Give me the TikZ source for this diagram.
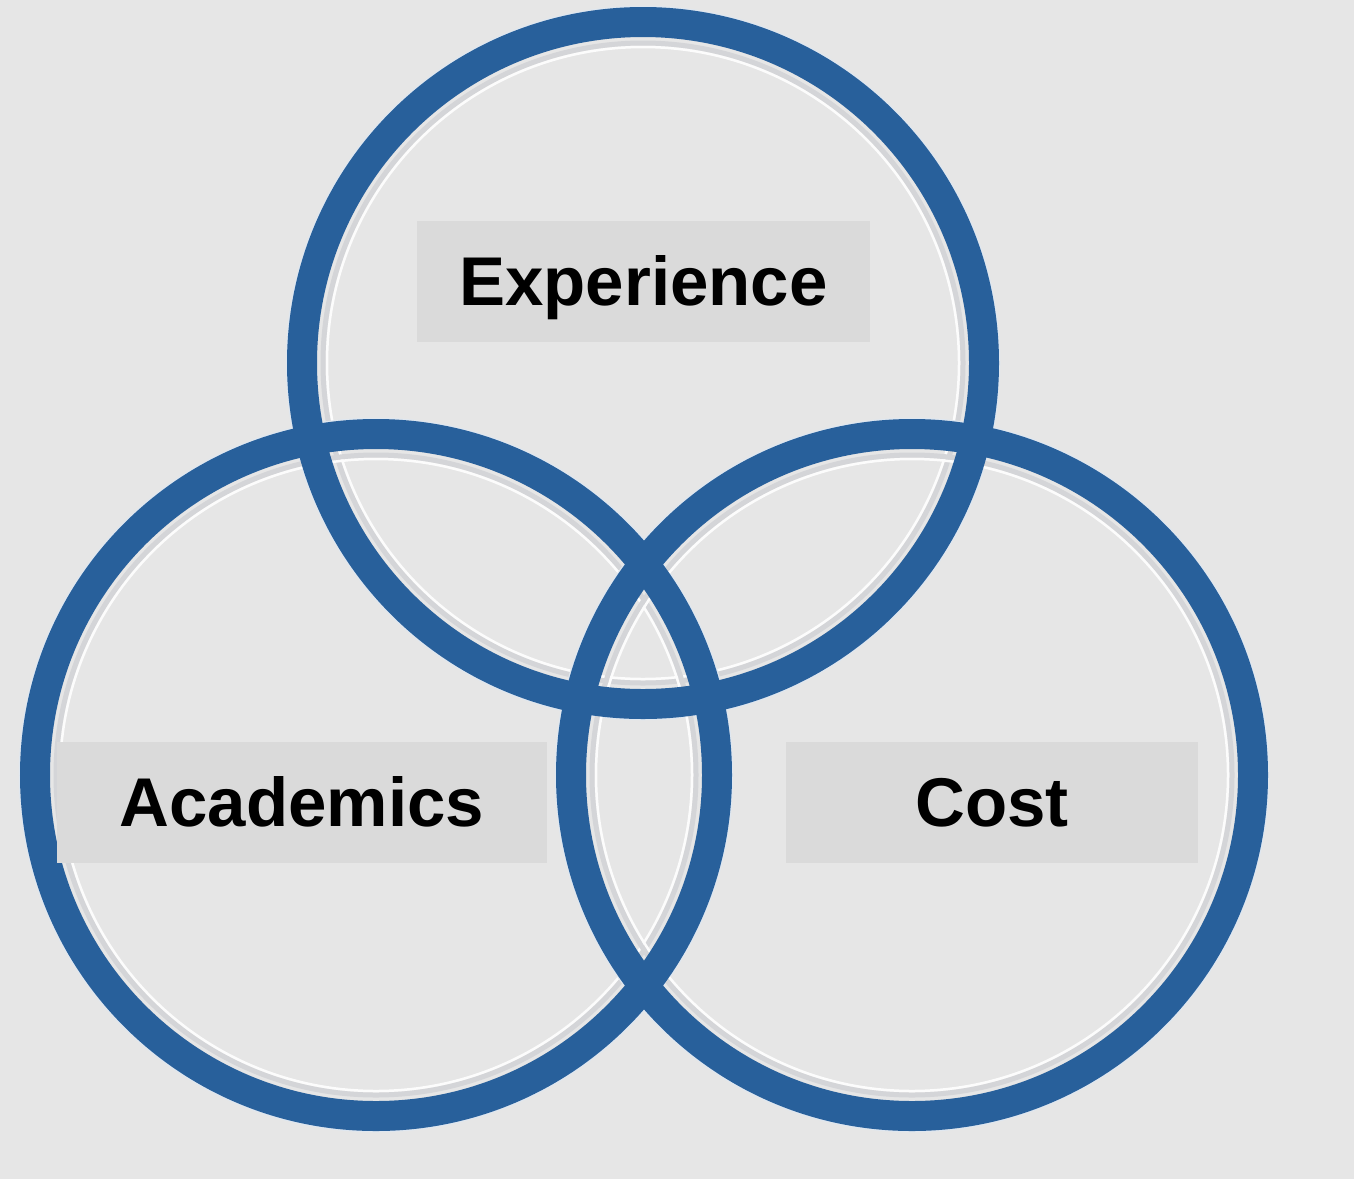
\documentclass[tikz,border=0pt]{standalone}
\usepackage{fontspec}
\setmainfont{Liberation Sans}
\definecolor{bgc}{RGB}{230,230,230}
\definecolor{boxc}{RGB}{218,218,218}
\definecolor{ringc}{RGB}{40,96,155}
\definecolor{shadec}{RGB}{212,213,216}
\begin{document}
\begin{tikzpicture}[x=1pt,y=-1pt,
  label/.style={fill=boxc,inner sep=0pt,text height=49.4pt,text depth=0pt,
    minimum height=121pt,font=\fontsize{69}{80}\selectfont\bfseries,text=black},
  ring/.style={draw=ringc,line width=30pt},
  glowin/.style={draw=white!90!bgc,line width=2.5pt},
  shadein/.style={draw=shadec,line width=5pt},
  glowout/.style={draw=white!85!ringc,line width=1.5pt}]
\fill[bgc] (0,0) rectangle (1354,1179);
\useasboundingbox (0,0) rectangle (1354,1179);
\coordinate (ce) at (643,363);
\coordinate (ca) at (376,775);
\coordinate (cc) at (912,775);
% glow and shade lines
\foreach \c in {ce,ca,cc}{
  \draw[shadein] (\c) circle[radius=320];
  \draw[glowin] (\c) circle[radius=316];
  \draw[glowout] (\c) circle[radius=356.5];
}
% rings
\foreach \c in {ce,ca,cc}{
  \draw[ring] (\c) circle[radius=341];
}
% labels
\node[label,minimum width=453pt] (exp) at (643.5,281) {Experience};
\node[label,minimum width=490pt] (acad) at (302,802) {Academics};
\node[label,minimum width=412pt] (cost) at (992,802) {Cost};
\end{tikzpicture}
\end{document}
